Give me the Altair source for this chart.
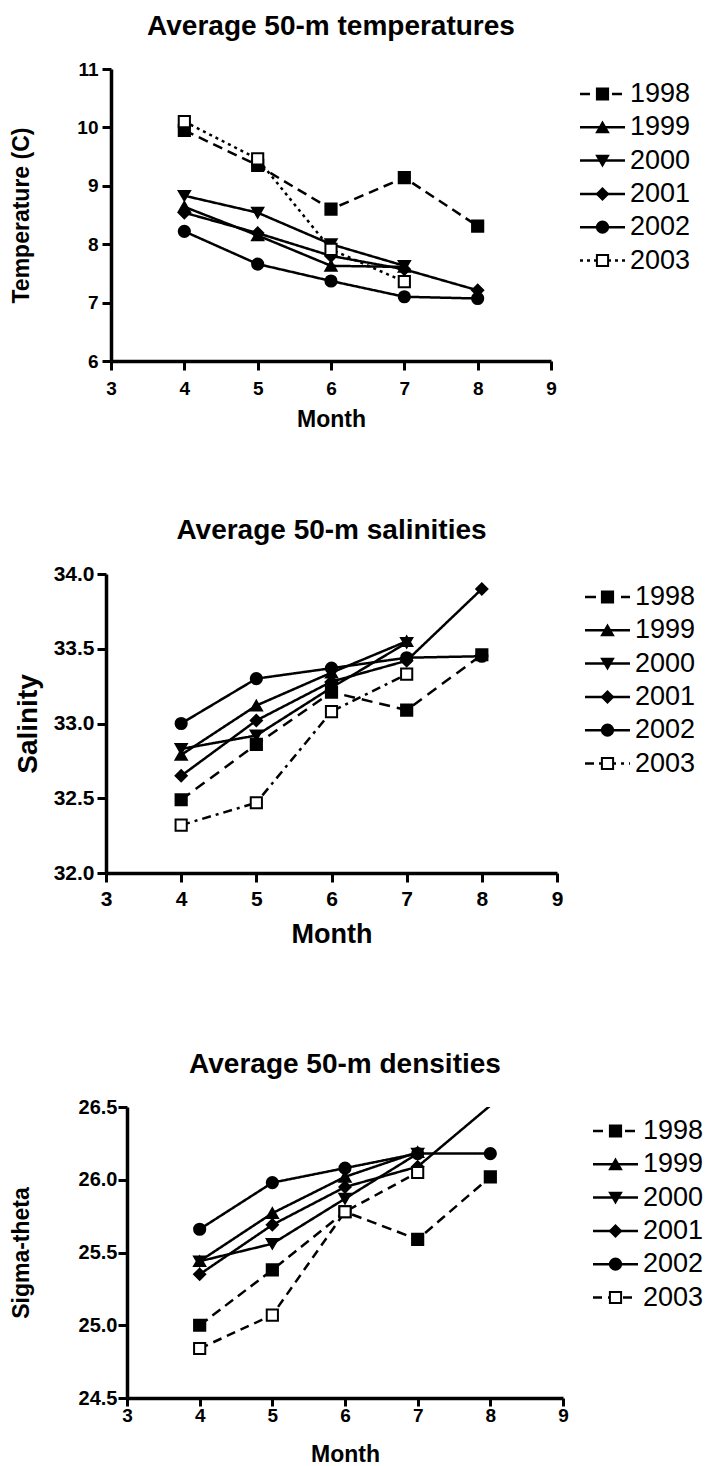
import altair as alt
import pandas as pd

FONT = "Liberation Sans"
years = ["1998", "1999", "2000", "2001", "2002", "2003"]
months = [4, 5, 6, 7, 8]
month_ticks = [3, 4, 5, 6, 7, 8, 9]

# Average 50-m temperatures
temp_1998 = [9.95, 9.35, 8.60, 9.14, 8.31]
temp_1999 = [8.64, 8.15, 7.63, 7.61, None]
temp_2000 = [8.83, 8.54, 8.00, 7.63, None]
temp_2001 = [8.54, 8.19, 7.80, 7.57, 7.21]
temp_2002 = [8.22, 7.66, 7.37, 7.10, 7.07]
temp_2003 = [10.10, 9.46, 7.91, 7.36, None]

# Average 50-m salinities
sal_1998 = [32.49, 32.86, 33.21, 33.09, 33.46]
sal_1999 = [32.79, 33.12, 33.34, 33.55, None]
sal_2000 = [32.83, 32.92, 33.24, 33.54, None]
sal_2001 = [32.65, 33.02, 33.28, 33.42, 33.90]
sal_2002 = [33.00, 33.30, 33.37, 33.44, 33.45]
sal_2003 = [32.32, 32.47, 33.08, 33.33, None]

# Average 50-m densities (sigma-theta)
den_1998 = [25.00, 25.38, 25.78, 25.59, 26.02]
den_1999 = [25.44, 25.77, 26.02, 26.19, None]
den_2000 = [25.44, 25.56, 25.87, 26.18, None]
den_2001 = [25.35, 25.69, 25.95, 26.09, 26.51]
den_2002 = [25.66, 25.98, 26.08, 26.18, 26.18]
den_2003 = [24.84, 25.07, 25.78, 26.05, None]

temp_ticks = [6, 7, 8, 9, 10, 11]
sal_ticks = [32.0, 32.5, 33.0, 33.5, 34.0]
den_ticks = [24.5, 25.0, 25.5, 26.0, 26.5]

shapes = ["square", "triangle-up", "triangle-down", "diamond", "circle", "square"]
fills = ["black", "black", "black", "black", "black", "white"]


def build(series):
    rows = []
    for y, vals in zip(years, series):
        for m, v in zip(months, vals):
            if v is not None:
                rows.append({"year": y, "month": m, "value": v})
    return pd.DataFrame(rows)


def point_layer(base, x, y):
    return base.mark_point(filled=True, size=125, stroke="black", strokeWidth=2, opacity=1).encode(
        x=x, y=y,
        shape=alt.Shape("year:N", scale=alt.Scale(domain=years, range=shapes), legend=None),
        fill=alt.Fill("year:N", scale=alt.Scale(domain=years, range=fills), legend=None),
    )


def panel(df, title, ytitle, ydom, yticks, yfmt, w, h, dashes, p):
    x = alt.X("month:Q", scale=alt.Scale(domain=[3, 9], nice=False, zero=False),
              axis=alt.Axis(values=month_ticks, title="Month", format="d",
                            labelFontSize=p["xlf"], titleFontSize=p["xtf"],
                            labelPadding=p["xlp"], titlePadding=p["xtp"],
                            tickSize=p["xts"]))
    y = alt.Y("value:Q", scale=alt.Scale(domain=ydom, nice=False, zero=False),
              axis=alt.Axis(values=yticks, title=ytitle, format=yfmt,
                            labelFontSize=p["ylf"], titleFontSize=p["ytf"],
                            labelPadding=p["ylp"], titlePadding=p["ytp"],
                            tickSize=9))
    base = alt.Chart(df)
    layers = []
    for yr, dsh in zip(years, dashes):
        layers.append(
            base.transform_filter(alt.datum.year == yr)
            .mark_line(color="black", strokeWidth=2.5, clip=True, strokeDash=dsh)
            .encode(x=x, y=y)
        )
    pts = point_layer(base.transform_filter(alt.datum.value <= ydom[1]), x, y)
    layers.append(pts)
    return alt.layer(*layers).properties(
        width=w, height=h,
        title=alt.Title(title, fontSize=28, font=FONT, fontWeight="bold", color="black",
                        offset=p["toff"], anchor="middle", frame="group"),
    )


def legend(dashes, first, xoff, step=33.3, H=220):
    L = 45
    ldf = pd.DataFrame({"year": years, "idx": list(range(6)), "x0": [0] * 6, "x1": [L] * 6,
                        "xm": [L / 2] * 6, "xt": [L + 5] * 6})
    lo = -first / step
    hi = (H - first) / step
    xs = alt.Scale(domain=[-xoff, 60], nice=False, zero=False)
    ys = alt.Scale(domain=[lo, hi], nice=False, zero=False, reverse=True)
    yy = alt.Y("idx:Q", scale=ys, axis=None)
    base = alt.Chart(ldf)
    layers = []
    for yr, dsh in zip(years, dashes):
        layers.append(
            base.transform_filter(alt.datum.year == yr)
            .mark_rule(color="black", strokeWidth=2.5, strokeDash=dsh)
            .encode(x=alt.X("x0:Q", scale=xs, axis=None), x2="x1:Q", y=yy)
        )
    layers.append(point_layer(base, alt.X("xm:Q", scale=xs, axis=None), yy))
    layers.append(
        base.mark_text(align="left", baseline="middle", fontSize=27, font=FONT, color="black").encode(
            x=alt.X("xt:Q", scale=xs, axis=None), y=yy, text="year:N")
    )
    return alt.layer(*layers).properties(width=60 + xoff, height=H)


def spacer(w):
    return alt.Chart(pd.DataFrame({"s": [0]})).mark_point(size=0, opacity=0, strokeWidth=0).encode(
        x=alt.value(0), y=alt.value(0)).properties(width=w, height=10)


solid = [1, 0]
d1 = [[10, 6], solid, solid, solid, solid, [3, 4]]
d2 = [[11, 7], solid, solid, solid, solid, [9, 5, 3, 5]]
d3 = [[10, 6], solid, solid, solid, solid, [9, 6]]

p1 = dict(xlf=19, xtf=23, xlp=9, xtp=10, xts=9, ylf=19, ytf=23, ylp=4, ytp=43, toff=19)
p2 = dict(xlf=21, xtf=27, xlp=6, xtp=12, xts=9, ylf=21, ytf=28, ylp=3, ytp=11, toff=18)
p3 = dict(xlf=19, xtf=23, xlp=0, xtp=18, xts=8, ylf=20, ytf=23, ylp=1, ytp=45, toff=18)

c1 = panel(build([temp_1998, temp_1999, temp_2000, temp_2001, temp_2002, temp_2003]),
           "Average 50-m temperatures", "Temperature (C)", [6, 11], temp_ticks, "d",
           440, 292, d1, p1)
c2 = panel(build([sal_1998, sal_1999, sal_2000, sal_2001, sal_2002, sal_2003]),
           "Average 50-m salinities", "Salinity", [32, 34], sal_ticks, ".1f",
           451, 299, d2, p2)
c3 = panel(build([den_1998, den_1999, den_2000, den_2001, den_2002, den_2003]),
           "Average 50-m densities", "Sigma-theta", [24.5, 26.5], den_ticks, ".1f",
           436, 291, d3, p3)

row1 = alt.hconcat(spacer(10), c1, legend(d1, 25, 23), spacing=0)
row2 = alt.hconcat(spacer(14), c2, legend(d2, 23, 22), spacing=0)
row3 = alt.hconcat(spacer(10), c3, legend(d3, 24, 24), spacing=0)

inner = alt.concat(row1, row2, columns=1, spacing=86)
chart = alt.concat(inner, row3, columns=1, spacing=104).properties(
    padding={"left": 0, "top": 13, "right": 0, "bottom": 0}, background="white"
).configure_view(stroke=None).configure_axis(
    domainColor="black", domainWidth=3.5, tickColor="black", tickWidth=3,
    labelFont=FONT, labelFontWeight="bold", labelColor="black",
    titleFont=FONT, titleFontWeight="bold", titleColor="black",
    grid=False, labelFlush=False, labelOverlap=False,
)

chart.save("out.html", embed_options={"renderer": "svg", "actions": False})
